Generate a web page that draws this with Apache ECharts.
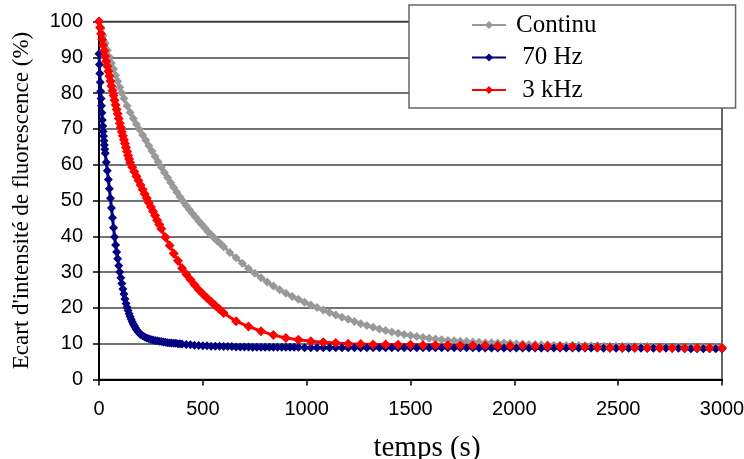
<!DOCTYPE html>
<html>
<head>
<meta charset="utf-8">
<script src="https://cdn.jsdelivr.net/npm/echarts@6/dist/echarts.min.js"></script>
<style>
  html, body { margin: 0; padding: 0; background: #fff; }
  #chart { width: 744px; height: 459px; }
</style>
</head>
<body>
<div id="chart"></div>
<script>
// temps (s) / ecart d'intensite (%)
var seriesNames = ['Continu', ' 70 Hz', ' 3 kHz'];

var grayPoints = [[0,100],[10,98],[20,96],[30,94],[40,92],[50,90.1],[60,88.4],[70,86.7],[80,85],[90,83.3],[100,81.6],[110,80],[120,78.5],
  [135,76.5],[150,74.6],[165,72.9],[180,71.3],[195,69.8],[210,68.3],[225,66.8],[240,65.3],[255,63.8],[270,62.3],[285,60.8],[300,59.3],
  [315,57.8],[330,56.4],[345,55],[360,53.6],[375,52.3],[390,51],[405,49.8],[420,48.6],[435,47.5],[450,46.4],[465,45.3],[480,44.3],
  [495,43.3],[510,42.3],[525,41.3],[540,40.4],[555,39.5],[570,38.7],[585,37.9],[600,37.1],
  [630,35.5],[660,34],[690,32.5],[720,31],[750,29.7],[780,28.4],[810,27.2],[840,26.1],[870,25.1],[900,24.1],[930,23.2],[960,22.4],
  [990,21.6],[1020,20.8],[1050,20.1],[1080,19.4],[1110,18.7],[1140,18],[1170,17.4],[1200,16.8],[1230,16.2],[1260,15.6],[1290,15.1],
  [1320,14.6],[1350,14.1],[1380,13.7],[1410,13.3],[1440,12.9],[1470,12.6],[1500,12.3],[1530,12],[1560,11.7],[1590,11.5],[1620,11.3],
  [1650,11.1],[1680,10.9],[1710,10.8],[1740,10.7],[1770,10.6],[1800,10.5],[1830,10.4],[1860,10.3],[1890,10.3],[1920,10.2],[1950,10.2],
  [1980,10.1],[2010,10],[2040,9.9],[2070,9.8],[2100,9.8],[2130,9.7],[2160,9.7],[2190,9.6],[2220,9.6],[2250,9.5],[2280,9.5],[2310,9.5],
  [2340,9.4],[2370,9.4],[2400,9.4],[2430,9.3],[2460,9.3],[2490,9.3],[2520,9.3],[2550,9.2],[2580,9.2],[2610,9.2],[2640,9.2],[2670,9.1],
  [2700,9.1],[2730,9.1],[2760,9.1],[2790,9.1],[2820,9],[2850,9],[2880,9],[2910,9],[2940,9],[2970,9],[3000,9]];

var bluePoints = [[0,91],[2,88],[4,85.5],[6,83],[8,80.5],[10,78.5],[12,76.5],[14,74.5],[16,72.5],[18,70.8],[20,69.3],[22,68],[24,66.7],
  [26,65.5],[28,64.3],[30,63.2],[35,60.7],[40,58.3],[45,55.9],[50,53.3],[55,50.6],[60,47.9],[65,45.2],[70,42.4],[75,39.8],[80,37.6],
  [85,35.6],[90,33.7],[95,31.8],[100,30],[105,28.4],[110,26.8],[115,25.3],[120,23.9],[125,22.5],[130,21.2],[135,20.2],[140,19.3],
  [145,18.4],[150,17.6],[155,16.8],[160,16.1],[165,15.5],[170,15],[175,14.5],[180,14],[185,13.6],[190,13.2],[195,12.9],[200,12.6],
  [210,12.2],[220,11.9],[230,11.6],[240,11.4],[250,11.2],[260,11],[270,10.9],[280,10.8],[290,10.7],[300,10.6],[310,10.5],[320,10.4],
  [330,10.3],[340,10.2],[350,10.2],[360,10.1],[370,10.1],[380,10],[390,10],[400,9.9],[420,9.8],[440,9.7],[460,9.6],[480,9.5],[500,9.4],
  [520,9.4],[540,9.3],[560,9.3],[580,9.3],[600,9.2],[620,9.2],[640,9.2],[660,9.1],[680,9.1],[700,9.1],[720,9.1],[740,9],[760,9],
  [780,9],[800,9],[820,9],[840,9],[860,9],[880,9],[900,9],[920,9],[940,9],[960,9],
  [990,8.9],[1020,8.9],[1050,8.9],[1080,8.9],[1110,8.9],[1140,8.9],[1170,8.9],[1200,8.9],[1230,8.9],[1260,8.9],[1290,8.9],[1320,8.9],
  [1350,8.9],[1380,8.9],[1410,8.9],[1440,8.9],[1470,8.9],[1500,8.9],[1530,8.9],[1560,8.9],[1590,8.9],[1620,8.9],[1650,8.9],[1680,8.9],
  [1710,8.9],[1740,8.9],[1770,8.9],[1800,8.9],[1830,8.8],[1860,8.8],[1890,8.8],[1920,8.8],[1950,8.8],[1980,8.8],[2010,8.8],[2040,8.8],
  [2070,8.8],[2100,8.8],[2130,8.8],[2160,8.8],[2190,8.8],[2220,8.8],[2250,8.8],[2280,8.8],[2310,8.8],[2340,8.8],[2370,8.8],[2400,8.8],
  [2430,8.7],[2460,8.7],[2490,8.7],[2520,8.7],[2550,8.7],[2580,8.7],[2610,8.7],[2640,8.7],[2670,8.7],[2700,8.7],[2730,8.7],[2760,8.7],
  [2790,8.7],[2820,8.6],[2850,8.6],[2880,8.6],[2910,8.6],[2940,8.6],[2970,8.6],[3000,8.6]];

var redPoints = [[0,100],[5,98.3],[10,96.6],[15,95],[20,93.4],[25,91.8],[30,90.3],[35,88.9],[40,87.5],[45,86.1],[50,84.8],[55,83.4],
  [60,82],[65,80.7],[70,79.3],[75,78],[80,76.7],[85,75.4],[90,74.2],[95,72.9],[100,71.6],[105,70.4],[110,69.2],[115,68.1],[120,67],
  [125,65.9],[130,64.8],[135,63.7],[140,62.6],[145,61.6],[150,60.6],[160,59.3],[170,58],[180,56.8],[190,55.6],[200,54.3],[210,53.1],
  [220,51.8],[230,50.6],[240,49.4],[250,48.2],[260,47],[270,45.8],[280,44.5],[290,43.3],[300,42.1],[320,39.7],[340,37.4],[360,35.2],
  [380,33.2],[400,31.1],[420,29.4],[440,27.9],[460,26.5],[480,25.1],[500,23.9],[520,22.8],[540,21.7],[560,20.7],[580,19.6],[600,18.6],
  [660,16.3],[720,14.8],[780,13.5],[840,12.4],[900,11.6],[960,11.1],[1020,10.7],[1080,10.4],[1140,10.2],[1200,10],[1260,9.9],
  [1320,9.8],[1380,9.8],[1440,9.7],[1500,9.7],[1560,9.6],[1620,9.6],[1680,9.6],[1740,9.5],[1800,9.5],[1860,9.5],[1920,9.4],
  [1980,9.4],[2040,9.4],[2100,9.3],[2160,9.3],[2220,9.2],[2280,9.2],[2340,9.1],[2400,9],[2460,8.9],[2520,8.9],[2580,8.9],
  [2640,8.8],[2700,8.8],[2760,8.8],[2820,8.8],[2880,8.8],[2940,8.8],[3000,8.8]];

var colors = ['#999999', '#000080', '#ff0000'];

var chart = echarts.init(document.getElementById('chart'));

function makeSeries(name, data, color, size) {
    return {
        name: name,
        type: 'line',
        data: data,
        showAllSymbol: true,
        symbol: 'diamond',
        symbolSize: size,
        lineStyle: { color: color, width: 3 },
        itemStyle: { color: color },
        animation: false
    };
}

var option = {
    backgroundColor: '#fff',
    animation: false,
    grid: {
        left: 99, right: 22, top: 21.5, bottom: 79.5,
        show: true, borderColor: '#333', borderWidth: 1.5,
        outerBoundsMode: 'none'
    },
    legend: {
        left: 409, top: 5,
        orient: 'vertical',
        data: seriesNames,
        itemWidth: 34, itemHeight: 10, itemGap: 6.5,
        padding: [7, 139, 5, 62],
        backgroundColor: '#fff',
        borderColor: '#666', borderWidth: 1.5,
        textStyle: { fontFamily: 'Liberation Serif', fontSize: 25, color: '#000', lineHeight: 26, padding: [0, 0, 0, 5] }
    },
    xAxis: {
        type: 'value', min: 0, max: 3000, interval: 500,
        name: 'temps (s)', nameLocation: 'middle', nameGap: 54,
        nameTextStyle: { fontFamily: 'Liberation Serif', fontSize: 29, color: '#000', padding: [0, 0, 0, 33] },
        axisLine: { lineStyle: { color: '#000', width: 2 } },
        axisTick: { show: true, length: 6, lineStyle: { color: '#000', width: 1.5 } },
        axisLabel: {
            fontFamily: 'Liberation Sans', fontSize: 20, color: '#000', margin: 20,
            formatter: function (v) { return String(v); }
        },
        splitLine: { show: false }
    },
    yAxis: {
        type: 'value', min: 0, max: 100, interval: 10,
        name: "Ecart d'intensité de fluorescence (%)", nameLocation: 'middle', nameGap: 66,
        nameTextStyle: { fontFamily: 'Liberation Serif', fontSize: 23, color: '#000' },
        axisLine: { show: true, lineStyle: { color: '#000', width: 2 } },
        axisTick: { show: true, length: 6, lineStyle: { color: '#000', width: 1.5 } },
        axisLabel: { fontFamily: 'Liberation Sans', fontSize: 20, color: '#000', margin: 16 },
        splitLine: { show: true, lineStyle: { color: '#444', width: 1.5 } }
    },
    series: [
        makeSeries(seriesNames[0], grayPoints, colors[0], 9),
        makeSeries(seriesNames[1], bluePoints, colors[1], 9),
        makeSeries(seriesNames[2], redPoints, colors[2], 10)
    ]
};

chart.setOption(option);
</script>
</body>
</html>
